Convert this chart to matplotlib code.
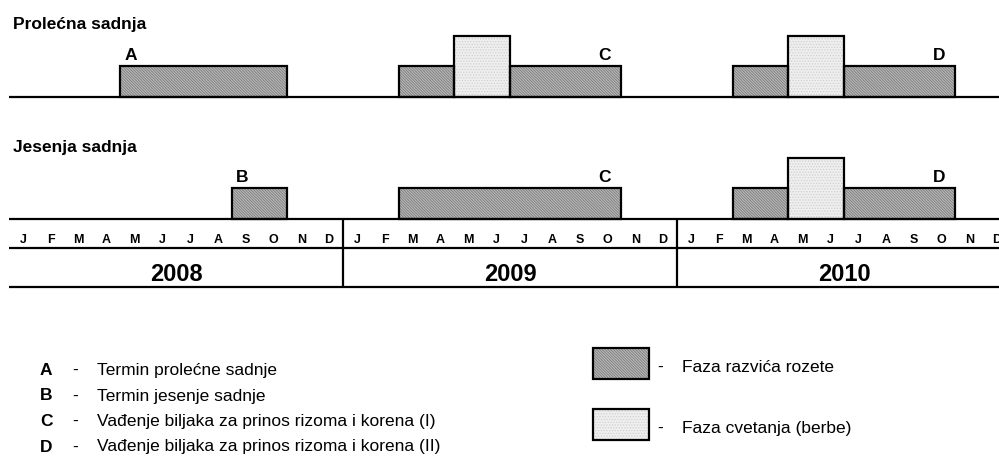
import matplotlib
matplotlib.use("Agg")
import matplotlib.pyplot as plt
from matplotlib.patches import Rectangle

plt.rcParams["font.family"] = ["Liberation Sans", "DejaVu Sans"]
plt.rcParams["hatch.linewidth"] = 0.6

# --- podaci -------------------------------------------------------------
months = ["J", "F", "M", "A", "M", "J", "J", "A", "S", "O", "N", "D"]
years = ["2008", "2009", "2010"]

# intervali (pocetak, kraj) u mesecima od januara 2008.
spring_rosette = [(4, 10), (14, 16), (18, 22), (26, 28), (30, 34)]
spring_flower = [(16, 18), (28, 30)]
autumn_rosette = [(8, 10), (14, 22), (26, 28), (30, 34)]
autumn_flower = [(28, 30)]

ROSETTE_LEVEL = 1
FLOWER_LEVEL = 2

spring_marks = [("A", 4.37), ("C", 21.39), ("D", 33.41)]
autumn_marks = [("B", 8.38), ("C", 21.39), ("D", 33.41)]

legend_letters = ["A", "B", "C", "D"]
legend_texts = [
    "Termin prolećne sadnje",
    "Termin jesenje sadnje",
    "Vađenje biljaka za prinos rizoma i korena (I)",
    "Vađenje biljaka za prinos rizoma i korena (II)",
]
phase_texts = ["Faza razvića rozete", "Faza cvetanja (berbe)"]

# --- izgled ---------------------------------------------------------------
W, H = 999, 467
U = 30.5  # piksela po jedinici visine
ROSETTE_STYLE = dict(face="#b9b9b9", hatch="\\" * 12, hcol="#7c7c7c")
FLOWER_STYLE = dict(face="#efefef", hatch="." * 6, hcol="#cfcfcf")
LW = 1.6


def py(p):
    """piksel od vrha slike -> y u jedinicama glavne ose"""
    return (H - p) / U


fig = plt.figure(figsize=(W / 100, H / 100), dpi=100)

# osa za tekst/legendu u pikselima
lax = fig.add_axes([0, 0, 1, 1])
lax.set_xlim(0, W)
lax.set_ylim(H, 0)
lax.axis("off")

# glavna osa: x u mesecima
ax = fig.add_axes([9 / W, 0, (1011 - 9) / W, 1])
ax.set_xlim(0, 36)
ax.set_ylim(0, H / U)
ax.axis("off")


def draw_bars(spans, base, level, style):
    left = [s for s, e in spans]
    width = [e - s for s, e in spans]
    ax.bar(left, [level] * len(spans), width=width, bottom=base, align="edge",
           color=style["face"], edgecolor=style["hcol"], linewidth=0,
           hatch=style["hatch"], zorder=2)
    ax.bar(left, [level] * len(spans), width=width, bottom=base, align="edge",
           fill=False, edgecolor="black", linewidth=LW, zorder=3)


# prolecna sadnja
sp_base = py(97)
draw_bars(spring_rosette, sp_base, ROSETTE_LEVEL, ROSETTE_STYLE)
draw_bars(spring_flower, sp_base, FLOWER_LEVEL, FLOWER_STYLE)
ax.hlines(sp_base, 0, 36, colors="black", linewidth=LW, zorder=4)
for lab, x in spring_marks:
    ax.text(x, py(60), lab, ha="center", va="baseline", fontsize=12.5, fontweight="bold")
lax.text(13, 29, "Prolećna sadnja", ha="left", va="baseline", fontsize=12.5, fontweight="bold")

# jesenja sadnja
au_base = py(219)
draw_bars(autumn_rosette, au_base, ROSETTE_LEVEL, ROSETTE_STYLE)
draw_bars(autumn_flower, au_base, FLOWER_LEVEL, FLOWER_STYLE)
for lab, x in autumn_marks:
    ax.text(x, py(182), lab, ha="center", va="baseline", fontsize=12.5, fontweight="bold")
lax.text(13, 152, "Jesenja sadnja", ha="left", va="baseline", fontsize=12.5, fontweight="bold")

# vremenska osa
ax.hlines([au_base, py(248), py(287)], 0, 36, colors="black", linewidth=LW, zorder=4)
ax.vlines([12, 24], py(287), au_base, colors="black", linewidth=LW, zorder=4)
for i in range(36):
    ax.text(i + 0.5, py(243), months[i % 12], ha="center", va="baseline",
            fontsize=9, fontweight="bold")
for k, yr in enumerate(years):
    ax.text(12 * k + 6, py(281), yr, ha="center", va="baseline",
            fontsize=17, fontweight="bold")

# legenda - slova
for i, (let, txt) in enumerate(zip(legend_letters, legend_texts)):
    yb = 375 + i * 25.5
    lax.text(40, yb, let, ha="left", va="baseline", fontsize=12.5, fontweight="bold")
    lax.text(75, yb, "-", ha="center", va="baseline", fontsize=12.5)
    lax.text(97, yb, txt, ha="left", va="baseline", fontsize=12.5)

# legenda - faze
for (top, txt, style) in [(348, phase_texts[0], ROSETTE_STYLE),
                          (409, phase_texts[1], FLOWER_STYLE)]:
    lax.add_patch(Rectangle((593, top), 56, 31, facecolor=style["face"],
                            edgecolor=style["hcol"], linewidth=0, hatch=style["hatch"]))
    lax.add_patch(Rectangle((593, top), 56, 31, fill=False, edgecolor="black", linewidth=LW))
    lax.text(660, top + 24, "-", ha="center", va="baseline", fontsize=12.5)
    lax.text(682, top + 24, txt, ha="left", va="baseline", fontsize=12.5)

fig.savefig("out.png", dpi=100)
